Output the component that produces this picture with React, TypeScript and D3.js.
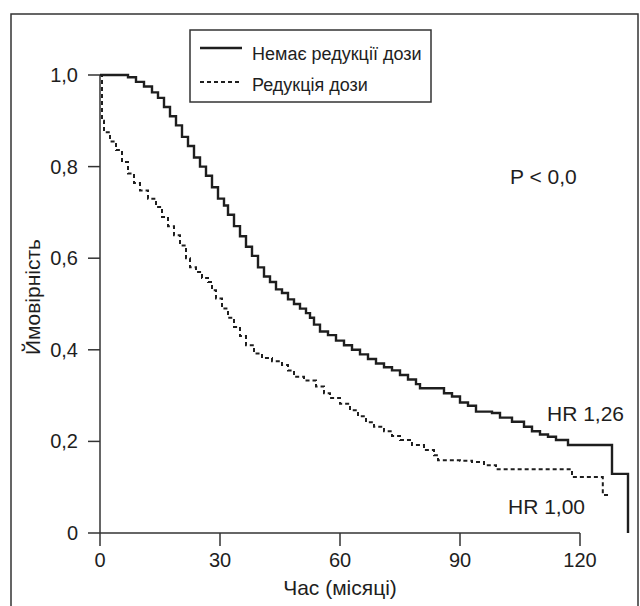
import React from "react";
import * as d3 from "d3";

// [month, survival]
const noReduction: [number, number][] = [
  [0, 1.0], [5, 1.0], [7, 0.995], [9, 0.985], [11, 0.975], [13, 0.962], [14.5, 0.95],
  [16, 0.93], [17.5, 0.91], [19, 0.89], [20.5, 0.865], [22, 0.845], [23.5, 0.82],
  [25, 0.8], [26.5, 0.78], [28, 0.755], [29.5, 0.73], [31, 0.715], [32, 0.695],
  [33.5, 0.67], [35, 0.648], [36.5, 0.625], [38, 0.605], [39.5, 0.58], [41, 0.56],
  [42.5, 0.548], [44, 0.532], [45.5, 0.524], [47, 0.51], [48.5, 0.5], [50, 0.49],
  [51.5, 0.48], [52.5, 0.47], [53.5, 0.455], [55, 0.44], [57, 0.432], [59, 0.42],
  [61, 0.41], [63, 0.4], [65, 0.39], [67, 0.38], [69, 0.37], [71, 0.362], [73, 0.355],
  [75, 0.345], [77, 0.335], [79, 0.325], [80, 0.316], [84, 0.316], [86, 0.305],
  [88, 0.298], [90, 0.285], [92, 0.278], [94, 0.265], [98, 0.262], [100, 0.252],
  [103, 0.243], [106, 0.232], [108, 0.222], [110, 0.215], [112, 0.21], [114, 0.203],
  [117, 0.192], [128, 0.129], [132, 0.0],
];

const doseReduction: [number, number][] = [
  [0, 1.0], [0.5, 0.9], [1, 0.875], [2.5, 0.855], [4, 0.836], [5.5, 0.81], [7, 0.785],
  [8.5, 0.764], [10, 0.748], [12, 0.73], [14, 0.712], [15.5, 0.69], [17, 0.67],
  [18.5, 0.65], [20, 0.628], [21.5, 0.6], [22.5, 0.58], [24, 0.57], [25.5, 0.557],
  [27, 0.548], [28, 0.53], [29, 0.512], [30.5, 0.49], [32, 0.47], [33.5, 0.45],
  [35, 0.43], [36.5, 0.41], [38.5, 0.392], [40.5, 0.382], [43, 0.375], [45.5, 0.367],
  [47, 0.355], [48.5, 0.341], [51, 0.333], [54, 0.32], [56, 0.305], [57.5, 0.295],
  [60, 0.282], [62.5, 0.268], [64.5, 0.255], [66.5, 0.242], [68.5, 0.232], [71, 0.222],
  [73, 0.212], [75, 0.203], [78, 0.192], [81, 0.181], [83.5, 0.17], [84.5, 0.159],
  [90, 0.158], [93, 0.155], [96, 0.148], [99, 0.139], [118, 0.122], [125.7, 0.083],
  [127.7, 0.083],
];

const xTicks = [0, 30, 60, 90, 120];
const yTicks = [0, 0.2, 0.4, 0.6, 0.8, 1.0];
const yTickLabels = ["0", "0,2", "0,4", "0,6", "0,8", "1,0"];
const legendLabels = ["Немає редукції дози", "Редукція дози"];

const ink = "#1e1e1e";
const font = "'Liberation Sans', Arial, sans-serif";

export default function App() {
  const x = d3.scaleLinear().domain([0, 120]).range([100, 580]);
  const y = d3.scaleLinear().domain([0, 1]).range([533, 75]);

  const line = d3
    .line<[number, number]>()
    .x((d) => x(d[0]))
    .y((d) => y(d[1]))
    .curve(d3.curveStepAfter);

  return (
    <div style={{ position: "absolute", left: 0, top: 0 }}>
      <svg width={640} height={606} style={{ display: "block", fontFamily: font }}>
        <rect x={11} y={14} width={627} height={620} fill="none" stroke="#333" strokeWidth={1.5} />

        {/* axes */}
        <line x1={x(0)} x2={x(120)} y1={y(0)} y2={y(0)} stroke="#333" strokeWidth={1.5} />
        <line x1={x(0)} x2={x(0)} y1={y(1)} y2={y(0)} stroke="#333" strokeWidth={1.5} />
        {yTicks.map((t, i) => (
          <g key={t}>
            <line x1={x(0) - 12} x2={x(0)} y1={y(t)} y2={y(t)} stroke="#333" strokeWidth={1.5} />
            <text x={x(0) - 22} y={y(t)} dy="0.35em" textAnchor="end" fontSize={20} fill={ink}>
              {yTickLabels[i]}
            </text>
          </g>
        ))}
        {xTicks.map((t) => (
          <g key={t}>
            <line x1={x(t)} x2={x(t)} y1={y(0)} y2={y(0) + 13} stroke="#333" strokeWidth={1.5} />
            <text x={x(t)} y={y(0) + 34} textAnchor="middle" fontSize={20} fill={ink}>
              {t}
            </text>
          </g>
        ))}
        <text x={340} y={595} textAnchor="middle" fontSize={21} fill={ink}>
          Час (місяці)
        </text>
        <text
          transform="translate(40,297) rotate(-90)"
          textAnchor="middle"
          fontSize={21}
          fill={ink}
        >
          Ймовірність
        </text>

        {/* curves */}
        <path d={line(doseReduction) || ""} fill="none" stroke={ink} strokeWidth={2} strokeDasharray="4,3" />
        <path d={line(noReduction) || ""} fill="none" stroke={ink} strokeWidth={2.4} />

        {/* annotations */}
        <text x={510} y={184} fontSize={21} fill={ink}>P &lt; 0,0</text>
        <text x={547} y={421} fontSize={21} fill={ink}>HR 1,26</text>
        <text x={508} y={514} fontSize={21} fill={ink}>HR 1,00</text>

        {/* legend */}
        <rect x={190} y={30} width={241} height={72} fill="#fff" stroke="#333" strokeWidth={1.5} />
        <line x1={200} x2={242} y1={48} y2={48} stroke={ink} strokeWidth={2.4} />
        <line x1={200} x2={242} y1={82} y2={82} stroke={ink} strokeWidth={2} strokeDasharray="4,3" />
        <text x={252} y={60} fontSize={18} fill={ink}>{legendLabels[0]}</text>
        <text x={252} y={91} fontSize={18} fill={ink}>{legendLabels[1]}</text>
      </svg>
    </div>
  );
}
